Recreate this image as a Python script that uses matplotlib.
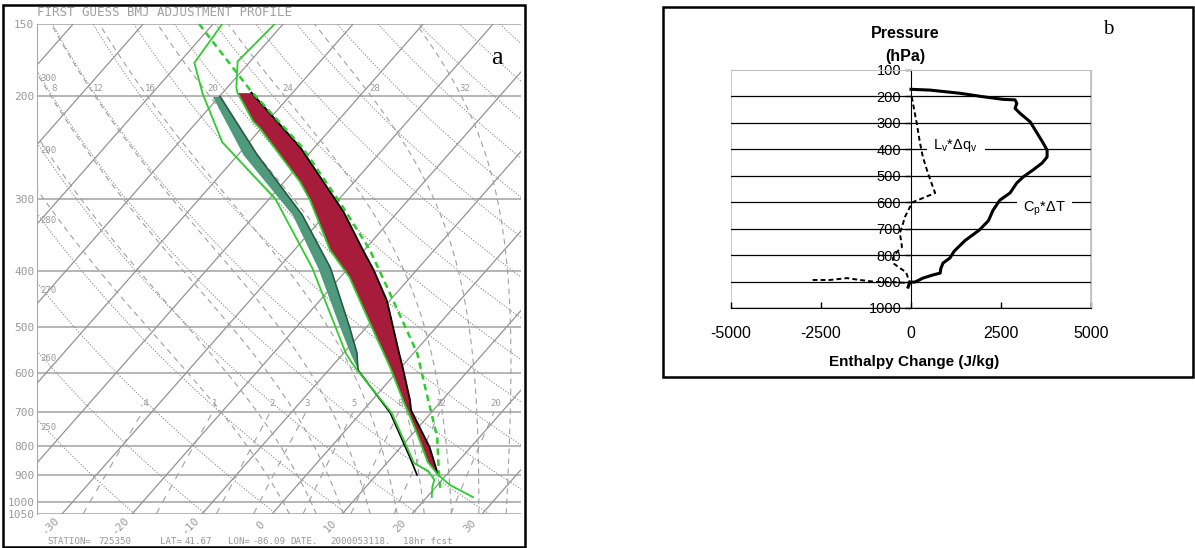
import numpy as np
import matplotlib
matplotlib.use("Agg")
import matplotlib.pyplot as plt
from matplotlib.patches import Rectangle
from matplotlib.ticker import NullLocator

plt.rcParams['font.family'] = ['Liberation Sans', 'DejaVu Sans']
plt.rcParams['mathtext.default'] = 'regular'
plt.rcParams['axes.unicode_minus'] = False

# ---- panel a: skew-T profiles (temperature in C, pressure in hPa) ----
# first guess dewpoint (left green line)
fg_dew_p = [150, 175, 198, 240, 300, 395, 500, 554, 576, 595, 703, 858, 885, 917, 943, 982]
fg_dew_t = [-68.7, -67.8, -62.7, -53.8, -39.2, -25.2, -14.4, -9.7, -7.6, -5.7, 4.4, 13.9, 16.9, 18.9, 19.5, 20.7]

# first guess temperature (right green line)
fg_t_p = [150, 174, 193, 197, 221, 227, 281, 302, 368, 410, 492, 586, 668, 761, 854, 899, 936, 982]
fg_t_t = [-61.2, -61.8, -58.7, -57.9, -52.0, -50.2, -37.7, -34.0, -24.9, -18.7, -10.0, -1.6, 4.4, 10.5, 15.7, 18.8, 21.8, 26.6]

# adjusted temperature (black line, right edge of red band)
adj_p = [197, 245, 316, 368, 398, 449, 473, 547, 586, 668, 695, 805, 882, 896]
adj_t = [-55.9, -42.0, -27.8, -20.2, -16.2, -10.5, -8.4, -2.6, 0.2, 5.4, 6.8, 14.1, 18.0, 18.7]

# reference profile (dashed green)
ref_p = [150, 195, 245, 280, 310, 368, 449, 554, 668, 773, 917, 963]
ref_t = [-72.0, -56.4, -41.7, -34.2, -28.5, -19.2, -9.6, 0.5, 8.0, 13.9, 19.6, 21.4]

# adjusted moisture band (teal)
teal_p = [200, 252, 320, 395, 500, 554, 593]
teal_left = [-61.0, -49.3, -34.7, -24.4, -13.8, -9.1, -5.8]
teal_right = [-59.9, -47.3, -33.3, -22.6, -12.4, -8.1, -5.8]

# lower black line
low_p = [593, 703, 837, 899]
low_t = [-5.8, 4.2, 12.5, 15.8]

isobars = [150, 200, 300, 400, 500, 600, 700, 800, 900, 1000, 1050]
temp_labels = [-30, -20, -10, 0, 10, 20, 30]
dry_thetas = list(range(250, 460, 10))
moist_thetas = list(range(0, 36, 4))
mix_ratios = [0.4, 1, 2, 3, 5, 8, 12, 20]
mix_labels = ['.4', '1', '2', '3', '5', '8', '12', '20']

# ---- panel b: enthalpy change profiles ----
cpdt_p = [173, 176, 188, 201, 211, 213, 226, 245, 264, 296, 338, 376, 403, 429, 452, 478, 505, 527,
          565, 592, 630, 670, 705, 745, 785, 811, 830, 850, 868, 875, 887, 902, 902, 921]
cpdt_e = [0, 530, 1360, 2000, 2560, 2890, 2940, 2890, 3030, 3310, 3500, 3670, 3780, 3780, 3640, 3390, 3110, 2940,
          2750, 2470, 2280, 2150, 1900, 1500, 1200, 1080, 890, 830, 810, 610, 330, 110, -30, -80]

lvdq_p = [201, 302, 376, 429, 490, 543, 565, 573, 592, 599, 618, 656, 694, 716, 769, 788, 811, 830, 849, 864,
          906, 902, 902, 894, 887, 894, 894]
lvdq_e = [20, 160, 250, 330, 470, 610, 670, 530, 190, 60, -30, -170, -250, -310, -250, -390, -500, -500, -310, -140,
          -30, -500, -940, -1420, -1780, -2250, -2750]

b_pticks = list(range(100, 1001, 100))
b_eticks = [-5000, -2500, 0, 2500, 5000]

W, H = 1195, 548
fig = plt.figure(figsize=(W / 100, H / 100), dpi=100)


def box(l, t, r, b):
    return [l / W, 1 - b / H, (r - l) / W, (b - t) / H]


K = 31.65  # skew factor


def skx(t, p):
    return np.asarray(t, float) + K * np.log(1050.0 / np.asarray(p, float))


def moist_adiabat(thw):
    def rate(T, p):
        es = 6.112 * np.exp(17.67 * (T - 273.15) / (T - 29.65))
        rs = 0.622 * es / (p - es)
        return (287.04 * T + 2.501e6 * rs) / (1005.7 + 2.501e6 ** 2 * rs * 0.622 / (287.04 * T * T))

    parts = []
    for grid in (np.linspace(np.log(1000), np.log(1050), 10), np.linspace(np.log(1000), np.log(150), 200)):
        T = thw + 273.15
        ts = [T]
        for a, b in zip(grid[:-1], grid[1:]):
            h = b - a
            k1 = rate(T, np.exp(a))
            k2 = rate(T + h * k1 / 2, np.exp(a + h / 2))
            k3 = rate(T + h * k2 / 2, np.exp(a + h / 2))
            k4 = rate(T + h * k3, np.exp(b))
            T = T + h * (k1 + 2 * k2 + 2 * k3 + k4) / 6
            ts.append(T)
        parts.append((np.exp(grid), np.array(ts) - 273.15))
    p = np.concatenate([parts[0][0][::-1], parts[1][0][1:]])
    t = np.concatenate([parts[0][1][::-1], parts[1][1][1:]])
    return p, t


grey = '#9a9a9a'
mono = 'DejaVu Sans Mono'
green = '#2fcc2f'

ax1 = fig.add_axes(box(37, 24, 521, 514))
ax1.set_yscale('log')
ax1.set_ylim(1050, 150)
ax1.set_xlim(-33.57, 35.57)
ax1.yaxis.set_minor_locator(NullLocator())
ax1.set_yticks(isobars)
ax1.set_yticklabels([str(p) for p in isobars], fontfamily=mono)
ax1.tick_params(axis='y', length=0, pad=2, labelsize=8, labelcolor=grey)
ax1.set_xticks([])
for s in ['top', 'right', 'bottom']:
    ax1.spines[s].set_visible(False)
ax1.spines['left'].set_color('#a8a8a8')

for p in isobars:
    ax1.axhline(p, color='#b0b0b0', lw=1.3, zorder=1)

pg = np.geomspace(1050, 150, 120)
for t in range(-110, 40, 10):
    ax1.plot(skx([t, t], [1050, 150]), [1050, 150], color='#939393', lw=0.9, zorder=1)

for th in dry_thetas:
    tt = th * (pg / 1000) ** 0.286 - 273.15
    xs = skx(tt, pg)
    ax1.plot(xs, pg, color='#8a8a8a', lw=0.8, ls=(0, (1, 1.6)), zorder=1)
    if th <= 300:
        pc = np.exp(np.interp(-33.57, xs[::-1], np.log(pg[::-1])))
        ax1.annotate(str(th), xy=(-33.57, pc), xytext=(2.5, -5.5), textcoords='offset points',
                     ha='left', va='center', fontsize=6.5, color=grey, fontfamily=mono)

for thw in moist_thetas:
    pm, tm = moist_adiabat(thw)
    xs = skx(tm, pm)
    ax1.plot(xs, pm, color='#a0a0a0', lw=0.8, ls=(0, (5, 4)), zorder=1)
    if thw >= 8:
        x200 = np.interp(np.log(200), np.log(pm[::-1]), xs[::-1])
        ax1.annotate(str(thw), xy=(x200, 200), xytext=(2, 2.5), textcoords='offset points',
                     ha='center', va='bottom', fontsize=6.5, color=grey, fontfamily=mono)

pw = np.geomspace(1050, 700, 20)
for w, lab in zip(mix_ratios, mix_labels):
    e = w * pw / (622 + w)
    td = 243.5 * np.log(e / 6.112) / (17.67 - np.log(e / 6.112))
    xs = skx(td, pw)
    ax1.plot(xs, pw, color='#a0a0a0', lw=0.8, ls=(0, (6, 6)), zorder=1)
    ax1.annotate(lab, xy=(xs[-1], 700), xytext=(1, 2.5), textcoords='offset points',
                 ha='center', va='bottom', fontsize=6.5, color=grey, fontfamily=mono)

for t in temp_labels:
    ax1.annotate(str(t), xy=(t, 1050), xytext=(-8.5, -8.5), textcoords='offset points', rotation=45,
                 ha='center', va='center', fontsize=8, color=grey, fontfamily=mono, annotation_clip=False)

# bands
ax1.fill_betweenx(teal_p, skx(teal_left, teal_p), skx(teal_right, teal_p), color='#4f9a7c', lw=0, zorder=3)
pr = np.geomspace(197, 882, 200)
left = np.interp(np.log(pr), np.log(fg_t_p), fg_t_t)
right = np.interp(np.log(pr), np.log(adj_p), adj_t)
ax1.fill_betweenx(pr, skx(left, pr), skx(right, pr), where=right >= left, color='#a81c3b', lw=0, zorder=3)

ax1.plot(skx(teal_right, teal_p), teal_p, color='#2d5748', lw=1.2, zorder=4)
ax1.plot(skx(low_t, low_p), low_p, color='black', lw=1.2, zorder=4)
ax1.plot(skx(adj_t, adj_p), adj_p, color='black', lw=1.3, zorder=4)
ax1.plot(skx(fg_dew_t, fg_dew_p), fg_dew_p, color=green, lw=1.3, zorder=5)
ax1.plot(skx(fg_t_t, fg_t_p), fg_t_p, color=green, lw=1.3, zorder=5)
ax1.plot(skx(ref_t, ref_p), ref_p, color=green, lw=1.8, ls=(0, (2.6, 1.8)), zorder=5)

fig.text(37 / W, 1 - 12 / H, 'FIRST GUESS BMJ ADJUSTMENT PROFILE', ha='left', va='center',
         fontsize=9, color='#a0a0a0', family=mono)
for s, x in [('STATION=', 47), ('725350', 98), ('LAT=', 160), ('41.67', 185), ('LON=', 228),
             ('-86.09', 252), ('DATE.', 290), ('2000053118.', 330), ('18hr fcst', 403)]:
    fig.text(x / W, 1 - 541 / H, s, ha='left', va='center', fontsize=6.6, color='#999999', family=mono)
fig.text(497 / W, 1 - 58 / H, 'a', ha='center', va='center', fontsize=19, family='Liberation Serif')

# ---- panel b ----
ax2 = fig.add_axes(box(731, 70, 1091, 308))
ax2.set_xlim(-5000, 5000)
ax2.set_ylim(1000, 100)
ax2.set_yticks(b_pticks)
ax2.set_xticks(b_eticks)
ax2.spines['left'].set_position(('data', 0))
for s in ['top', 'right']:
    ax2.spines[s].set_color('#c0c0c0')
ax2.add_patch(Rectangle((0, 0), 1, 1, transform=ax2.transAxes, fill=False, ec='#c0c0c0', lw=1.2, zorder=0))
ax2.tick_params(axis='y', direction='out', length=4, width=1, pad=3, labelsize=10.5)
ax2.tick_params(axis='x', direction='in', length=4, width=1, pad=13, labelsize=11.5)
for p in b_pticks[1:-1]:
    ax2.axhline(p, color='black', lw=0.9, zorder=2)

ax2.text(620, 400, r'L$_v$*Δq$_v$', ha='left', va='baseline', fontsize=10.5, zorder=3,
         bbox=dict(fc='white', ec='none', boxstyle='square,pad=0.45'))
ax2.text(3120, 637, r'C$_p$*ΔT', ha='left', va='baseline', fontsize=10.5, zorder=3,
         bbox=dict(fc='white', ec='none', boxstyle='square,pad=0.4'))
ax2.plot(cpdt_e, cpdt_p, color='black', lw=2.2, zorder=4)
ax2.plot(lvdq_e, lvdq_p, color='black', lw=1.4, ls=(0, (2.5, 1.6)), zorder=4)

fig.text(905 / W, 1 - 33 / H, 'Pressure', ha='center', va='center', fontsize=11.5, weight='bold')
fig.text(905 / W, 1 - 57 / H, '(hPa)', ha='center', va='center', fontsize=11.5, weight='bold')
fig.text(914 / W, 1 - 362 / H, 'Enthalpy Change (J/kg)', ha='center', va='center', fontsize=11, weight='bold')
fig.text(1108 / W, 1 - 29 / H, 'b', ha='center', va='center', fontsize=15, family='Liberation Serif')

# panel frames
fig.add_artist(Rectangle((3 / W, 1 - 547 / H), 522 / W, 542 / H, transform=fig.transFigure,
                         fill=False, ec='black', lw=1.8))
fig.add_artist(Rectangle((663 / W, 1 - 377 / H), 530 / W, 370 / H, transform=fig.transFigure,
                         fill=False, ec='black', lw=1.8))

fig.savefig('out.png', dpi=100)
